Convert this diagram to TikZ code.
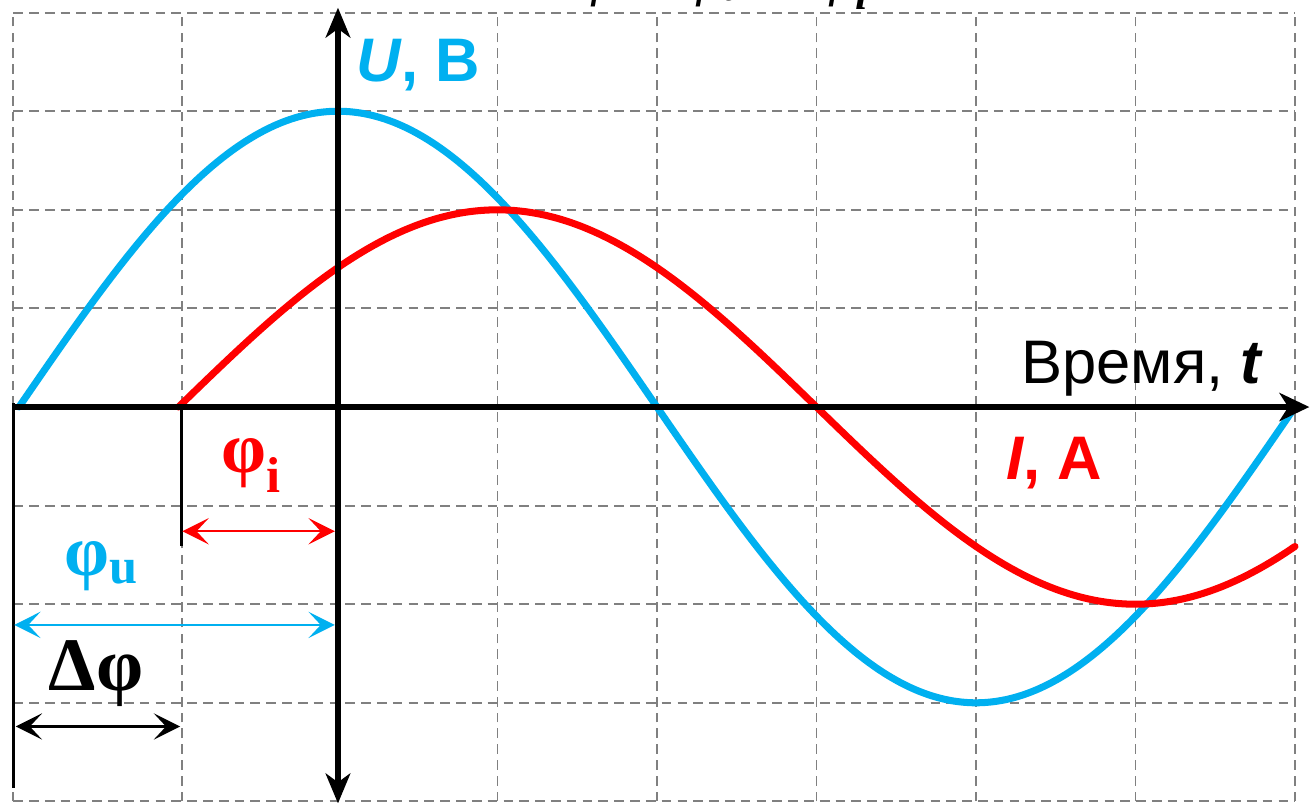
\documentclass[tikz,border=0pt]{standalone}
\usepackage{fontspec}
\setmainfont{Liberation Serif}
\newfontfamily\arialfont{Liberation Sans}
\usetikzlibrary{arrows.meta}

\definecolor{voltblue}{RGB}{0,176,240}
\definecolor{currred}{RGB}{255,0,0}
\definecolor{gridgray}{RGB}{128,128,128}

\begin{document}
\begin{tikzpicture}[x=3.19cm, y=1.972cm,
    gridline/.style={gridgray, line width=1.1pt, dash pattern=on 5.5pt off 3.5pt},
    axis/.style={line width=3.1pt},
    wave/.style={line width=4pt, line cap=round, smooth, samples=120},
    marker/.style={line width=1.8pt},
    dimline/.style={line width=1.2pt, {Stealth[length=15pt, width=15pt, inset=7pt]}-{Stealth[length=15pt, width=15pt, inset=7pt]}},
    greek/.style={font=\fontsize{41}{41}\selectfont\bfseries},
    sanslabel/.style={font=\fontsize{35}{35}\selectfont\arialfont\bfseries}]

    % Background
    \useasboundingbox (-2.119,-4.016) rectangle (6.113,4.128);
    \fill[white] (-2.119,-4.016) rectangle (6.113,4.128);

    % Grid
    \foreach \x in {-2.036,-0.98,0,1,2,3,4,5,6}
        \draw[gridline] (\x,-4) -- (\x,4);
    \foreach \y in {-4,...,4}
        \draw[gridline] (-2.036,\y) -- (6,\y);

    % Formula (cut off at the top)
    \node[font=\fontsize{36}{36}\selectfont\bfseries\itshape, anchor=base] (formula) at (2.3,4.19)
        {Δφ = φ\textsubscript{u} − φ\textsubscript{i}};

    % Voltage and current
    \draw[wave, voltblue, domain=-2:6] plot (\x, {3*cos(45*\x)});
    \draw[wave, currred, domain=-1:6] plot (\x, {2*sin(45*(\x+1))});

    % Axes
    \coordinate (tstart) at (-2.036,0);
    \coordinate (tend) at (6.09,0);
    \coordinate (ubottom) at (0,-4.02);
    \coordinate (utop) at (0,4.05);
    \draw[axis, -{Stealth[length=17pt, width=16pt, inset=5pt]}] (tstart) -- (tend);
    \draw[axis, {Stealth[length=17pt, width=14pt, inset=5pt]}-{Stealth[length=17pt, width=14pt, inset=5pt]}] (ubottom) -- (utop);

    % Phase markers
    \coordinate (u0) at (-2.036,0.04);
    \coordinate (u1) at (-2.036,-3.86);
    \coordinate (i0) at (-0.98,0);
    \coordinate (i1) at (-0.98,-1.41);
    \draw[marker] (u0) -- (u1);
    \draw[marker] (i0) -- (i1);

    % Phase arrows
    \draw[dimline, currred] (-0.975,-1.26) -- (-0.02,-1.26);
    \draw[dimline, voltblue] (-2.03,-2.21) -- (-0.02,-2.21);
    \draw[dimline, black] (-2.02,-3.24) -- (-0.99,-3.24);

    % Labels
    \node[greek, currred] (phii) at (-0.54,-0.59) {φ\textsubscript{i}};
    \node[greek, voltblue] (phiu) at (-1.48,-1.61) {φ\textsubscript{u}};
    \node[greek, font=\fontsize{43}{43}\selectfont\bfseries] (dphi) at (-1.517,-2.7) {Δφ};
    \node[sanslabel, voltblue, anchor=west] (ulabel) at (0.08,3.47) {\textit{U}, B};
    \node[sanslabel, currred, anchor=base west] (ilabel) at (4.15,-0.74) {\textit{I}, A};
    \node[font=\fontsize{35}{35}\selectfont\arialfont, anchor=base east] (tlabel) at (5.84,0.24) {Время, \textbf{\textit{t}}};
\end{tikzpicture}
\end{document}
